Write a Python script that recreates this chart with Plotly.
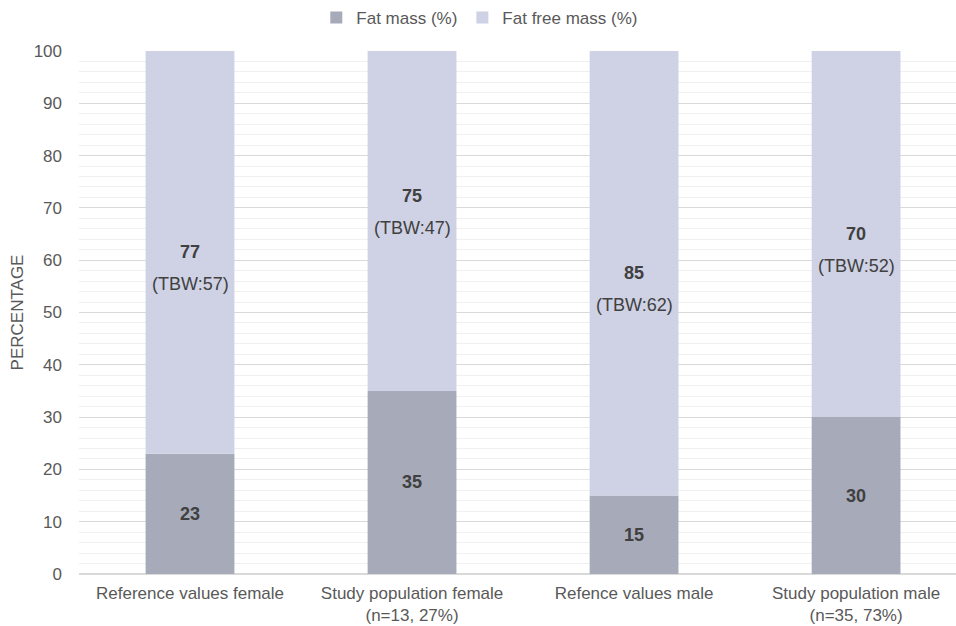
import plotly.graph_objects as go

categories = ["Reference values female", "Study population female<br>(n=13, 27%)",
              "Refence values male", "Study population male<br>(n=35, 73%)"]
fat_mass = [23, 35, 15, 30]
fat_free_mass = [77, 75, 85, 70]
tbw = [57, 47, 62, 52]
y_ticks = [0, 10, 20, 30, 40, 50, 60, 70, 80, 90, 100]

FAT_COLOR = "#A7AAB9"
FREE_COLOR = "#CED2E4"
TXT = "#404040"
FONT = "Liberation Sans, Arial, sans-serif"
xs = list(range(len(categories)))

fig = go.Figure()
fig.add_trace(go.Bar(
    x=xs, y=fat_mass, name="Fat mass (%)",
    marker=dict(color=FAT_COLOR, line=dict(width=0)), width=0.4,
    text=[f"<b>{v}</b>" for v in fat_mass], textposition="inside",
    insidetextanchor="middle", textangle=0,
    textfont=dict(color=TXT, size=18, family=FONT),
))
fig.add_trace(go.Bar(
    x=xs, y=[100 - m for m in fat_mass], base=fat_mass, name="Fat free mass (%)",
    marker=dict(color=FREE_COLOR, line=dict(width=0)), width=0.4,
    customdata=fat_free_mass, hovertemplate="%{customdata}<extra></extra>",
))

# labels for fat free segments (centered, TBW below)
nudge = [0, 25, 0, 0]
for i, (m, f, t) in enumerate(zip(fat_mass, fat_free_mass, tbw)):
    yc = m + (100 - m) / 2
    fig.add_annotation(x=i, y=yc, text=f"<b>{f}</b>", showarrow=False,
                       yshift=nudge[i], font=dict(color=TXT, size=18, family=FONT))
    fig.add_annotation(x=i, y=yc, text=f"(TBW:{t})", showarrow=False,
                       yshift=nudge[i] - 32, font=dict(color=TXT, size=18, family=FONT))

fig.update_layout(
    barmode="overlay",
    width=956, height=626,
    margin=dict(l=79, r=0, t=51, b=52, autoexpand=False),
    paper_bgcolor="white", plot_bgcolor="white",
    font=dict(family=FONT, color="#595959", size=17),
    legend=dict(orientation="h", x=0.457, xanchor="center", y=1.029, yanchor="bottom",
                font=dict(size=17, color="#595959"), traceorder="normal",
                itemwidth=30),
    showlegend=True,
)
fig.update_xaxes(
    tickmode="array", tickvals=xs, ticktext=categories, automargin=False,
    range=[-0.5, 3.45], showgrid=False, zeroline=False, showline=False,
    tickfont=dict(size=17, color="#595959"), ticks="", ticklabelstandoff=7,
)
fig.update_yaxes(
    range=[0, 100], tickvals=y_ticks, showgrid=True, gridcolor="#D9D9D9", gridwidth=1,
    minor=dict(dtick=2, showgrid=True, gridcolor="#F0F0F0", gridwidth=1),
    zeroline=True, zerolinecolor="#D9D9D9", zerolinewidth=2, automargin=False,
    title=dict(text="PERCENTAGE", font=dict(size=17, color="#595959"), standoff=5),
    tickfont=dict(size=17, color="#595959"), ticks="", ticklabelstandoff=16,
)

fig.write_html("out.html")
